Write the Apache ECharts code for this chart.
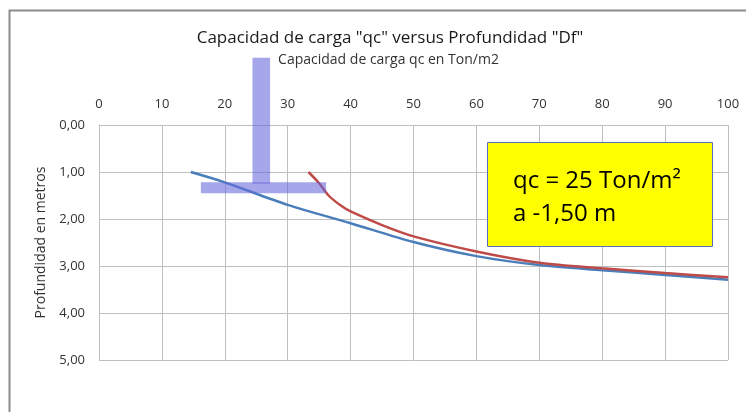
<!DOCTYPE html>
<html>
<head>
<meta charset="utf-8">
<script src="https://cdn.jsdelivr.net/npm/echarts@6/dist/echarts.min.js"></script>
<style>
  html, body { margin: 0; padding: 0; background: #fff; }
  #chart { width: 746px; height: 412px; }
</style>
</head>
<body>
<div id="chart"></div>
<script>
// Bearing capacity qc (Ton/m2) against foundation depth Df (m)
const qcTicks = [0, 10, 20, 30, 40, 50, 60, 70, 80, 90, 100];
const depthTicks = [0, 1, 2, 3, 4, 5];

// Curve 1: [qc, depth]
const curveBlue = [
  [14.6, 1.00], [20, 1.22], [30, 1.70], [40, 2.09], [50, 2.49],
  [60, 2.79], [70, 2.98], [80, 3.09], [90, 3.19], [100, 3.29]
];
// Curve 2: [qc, depth]
const curveRed = [
  [33.3, 1.00], [35.0, 1.24], [36.5, 1.50], [38.5, 1.72], [40, 1.84],
  [45, 2.13], [50, 2.37], [60, 2.69], [70, 2.93], [80, 3.05],
  [90, 3.15], [100, 3.24]
];

// Footing sketch: [qcFrom, qcTo, depthFrom, depthTo]
const footingParts = [
  [24.4, 27.2, -1.43, 1.25],   // column
  [16.2, 36.1, 1.22, 1.45]     // footing base
];

const noteLines = ['qc = 25 Ton/m\u00b2', 'a -1,50 m'];

const FONT = 'Open Sans';
const GRID = '#bfbfbf';
const TXT = '#333333';

const chart = echarts.init(document.getElementById('chart'), null, { renderer: 'canvas' });

chart.setOption({
  animation: false,
  backgroundColor: '#ffffff',
  title: {
    text: 'Capacidad de carga "qc" versus Profundidad "Df"',
    left: 385,
    textAlign: 'center',
    top: 25,
    textStyle: { fontFamily: FONT, fontSize: 17, fontWeight: 'normal', color: '#1a1a1a' }
  },
  grid: { left: 99, right: 18, top: 125, bottom: 52 },
  xAxis: {
    type: 'value',
    position: 'top',
    min: qcTicks[0],
    max: qcTicks[qcTicks.length - 1],
    interval: qcTicks[1] - qcTicks[0],
    name: 'Capacidad de carga qc en Ton/m2',
    nameLocation: 'middle',
    nameGap: 58,
    nameTextStyle: { fontFamily: FONT, fontSize: 14, color: TXT, padding: [0, 50, 0, 0] },
    axisLine: { show: true, lineStyle: { color: GRID, width: 1 } },
    axisTick: { show: false },
    axisLabel: { fontFamily: FONT, fontSize: 13, color: TXT, margin: 14 },
    splitLine: { show: true, lineStyle: { color: GRID, width: 1 } }
  },
  yAxis: {
    type: 'value',
    inverse: true,
    min: depthTicks[0],
    max: depthTicks[depthTicks.length - 1],
    interval: depthTicks[1] - depthTicks[0],
    name: 'Profundidad en metros',
    nameLocation: 'middle',
    nameRotate: 90,
    nameGap: 50,
    nameTextStyle: { fontFamily: FONT, fontSize: 14, color: TXT },
    axisLine: { show: true, lineStyle: { color: GRID, width: 1 } },
    axisTick: { show: false },
    axisLabel: {
      fontFamily: FONT, fontSize: 13, color: TXT, margin: 14,
      formatter: v => v.toFixed(2).replace('.', ',')
    },
    splitLine: { show: true, lineStyle: { color: GRID, width: 1 } }
  },
  series: [
    {
      type: 'line',
      data: curveBlue,
      smooth: 0.3,
      showSymbol: false,
      lineStyle: { color: '#4a7ebb', width: 2.5 },
      z: 3
    },
    {
      type: 'line',
      data: curveRed,
      smooth: 0.3,
      showSymbol: false,
      lineStyle: { color: '#be4b48', width: 2.5 },
      z: 3
    },
    {
      type: 'custom',
      clip: false,
      z: 5,
      data: footingParts,
      renderItem: (params, api) => {
        const p0 = api.coord([api.value(0), api.value(2)]);
        const p1 = api.coord([api.value(1), api.value(3)]);
        return {
          type: 'rect',
          shape: {
            x: Math.min(p0[0], p1[0]),
            y: Math.min(p0[1], p1[1]),
            width: Math.abs(p1[0] - p0[0]),
            height: Math.abs(p1[1] - p0[1])
          },
          style: { fill: 'rgba(102,102,221,0.58)' }
        };
      }
    }
  ],
  graphic: [
    {
      type: 'rect',
      silent: true,
      z: 1,
      shape: { x: 9.5, y: 10.5, width: 760, height: 420 },
      style: { fill: 'none', stroke: '#8c8c8c', lineWidth: 2 }
    },
    // Note box
    {
      type: 'rect',
      silent: true,
      z: 20,
      shape: { x: 487.5, y: 142.5, width: 225, height: 104 },
      style: { fill: '#ffff00', stroke: '#5b6bc0', lineWidth: 1 }
    },
    {
      type: 'text',
      silent: true,
      z: 21,
      x: 513,
      y: 181,
      style: {
        text: noteLines[0], fill: '#000',
        fontFamily: FONT, fontSize: 24, verticalAlign: 'middle', align: 'left'
      }
    },
    {
      type: 'text',
      silent: true,
      z: 21,
      x: 513,
      y: 214,
      style: {
        text: noteLines[1], fill: '#000',
        fontFamily: FONT, fontSize: 24, verticalAlign: 'middle', align: 'left'
      }
    }
  ]
});
</script>
</body>
</html>
